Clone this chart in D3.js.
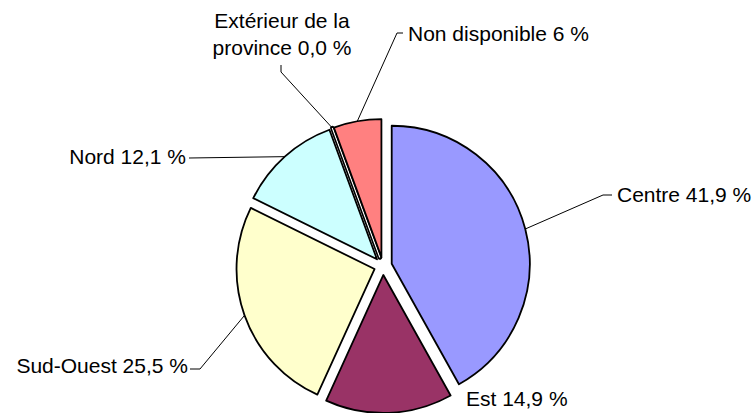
<!DOCTYPE html>
<html>
<head>
<meta charset="utf-8">
<script src="https://cdn.jsdelivr.net/npm/d3@7"></script>
<style>
  body { margin: 0; background: #fff; }
  text { font-family: "Liberation Sans", Arial, sans-serif; font-size: 21px; fill: #000; }
</style>
</head>
<body>
<svg id="chart" width="754" height="413"></svg>
<script>
// data
const categories = ["Centre", "Est", "Sud-Ouest", "Nord", "Extérieur de la province", "Non disponible"];
const values = [41.9, 14.9, 25.5, 12.1, 0.0, 5.6];
const labelLines = [
    ["Centre 41,9 %"],
    ["Est 14,9 %"],
    ["Sud-Ouest 25,5 %"],
    ["Nord 12,1 %"],
    ["Extérieur de la", "province 0,0 %"],
    ["Non disponible 6 %"]
];
const colors = ["#9999FF", "#993366", "#FFFFCC", "#CCFFFF", "#660066", "#FF8080"];

// label placement (x, y, anchor, leader elbow points from label side)
const labelPos = [
    {x: 617, y: 195, anchor: "start", leader: [[612, 195], [603, 195]]},
    {x: 466, y: 399, anchor: "start", leader: null},
    {x: 188, y: 366, anchor: "end", leader: [[190, 369], [200, 369]]},
    {x: 186, y: 157, anchor: "end", leader: [[189, 158]]},
    {x: 282, y: 21, anchor: "middle", leader: [[281, 65], [281, 72]]},
    {x: 408, y: 34, anchor: "start", leader: [[403, 33], [397, 33]]}
];

let cx = 383, cy = 266;
let radius = 138;
let explode = 9;

let svg = d3.select('#chart');
let g = svg.append('g').attr('transform', `translate(${cx}, ${cy})`);

let pie = d3.pie().sort(null).value(d => d);
let arcs = pie(values);

let arc = d3.arc().innerRadius(0).outerRadius(radius);

let offset = d => {
    let m = (d.startAngle + d.endAngle) / 2;
    return [explode * Math.sin(m), -explode * Math.cos(m)];
};

let slices = g.selectAll('g.slice')
    .data(arcs)
    .enter()
    .append('g')
        .attr('class', 'slice')
        .attr('transform', d => `translate(${offset(d)})`);

slices.append('path')
    .attr('d', arc)
    .attr('fill', (d, i) => colors[i])
    .attr('stroke', '#000')
    .attr('stroke-width', d => d.value === 0 ? 4.5 : 1.8)
    .attr('stroke-linejoin', 'round');

// zero slice shows as a double outline
slices.filter(d => d.value === 0)
    .append('path')
        .attr('d', arc)
        .attr('fill', 'none')
        .attr('stroke', '#fff')
        .attr('stroke-width', 1.2);

// leader lines
let edgePoint = d => {
    let m = (d.startAngle + d.endAngle) / 2;
    let o = offset(d);
    return [cx + o[0] + radius * Math.sin(m), cy + o[1] - radius * Math.cos(m)];
};

let line = d3.line();
svg.append('g').selectAll('path')
    .data(arcs.filter((d, i) => labelPos[i].leader))
    .enter()
    .append('path')
        .attr('d', d => line(labelPos[d.index].leader.concat([edgePoint(d)])))
        .attr('fill', 'none')
        .attr('stroke', '#000')
        .attr('stroke-width', 1);

// labels
let labels = svg.append('g').selectAll('text')
    .data(arcs)
    .enter()
    .append('text')
        .attr('x', d => labelPos[d.index].x)
        .attr('y', d => labelPos[d.index].y)
        .attr('dy', '0.35em')
        .attr('text-anchor', d => labelPos[d.index].anchor);

labels.each(function(d) {
    let t = d3.select(this);
    labelLines[d.index].forEach((s, k) => {
        t.append('tspan')
            .attr('x', labelPos[d.index].x)
            .attr('dy', k === 0 ? '0.35em' : 27)
            .text(s);
    });
});
</script>
</body>
</html>
